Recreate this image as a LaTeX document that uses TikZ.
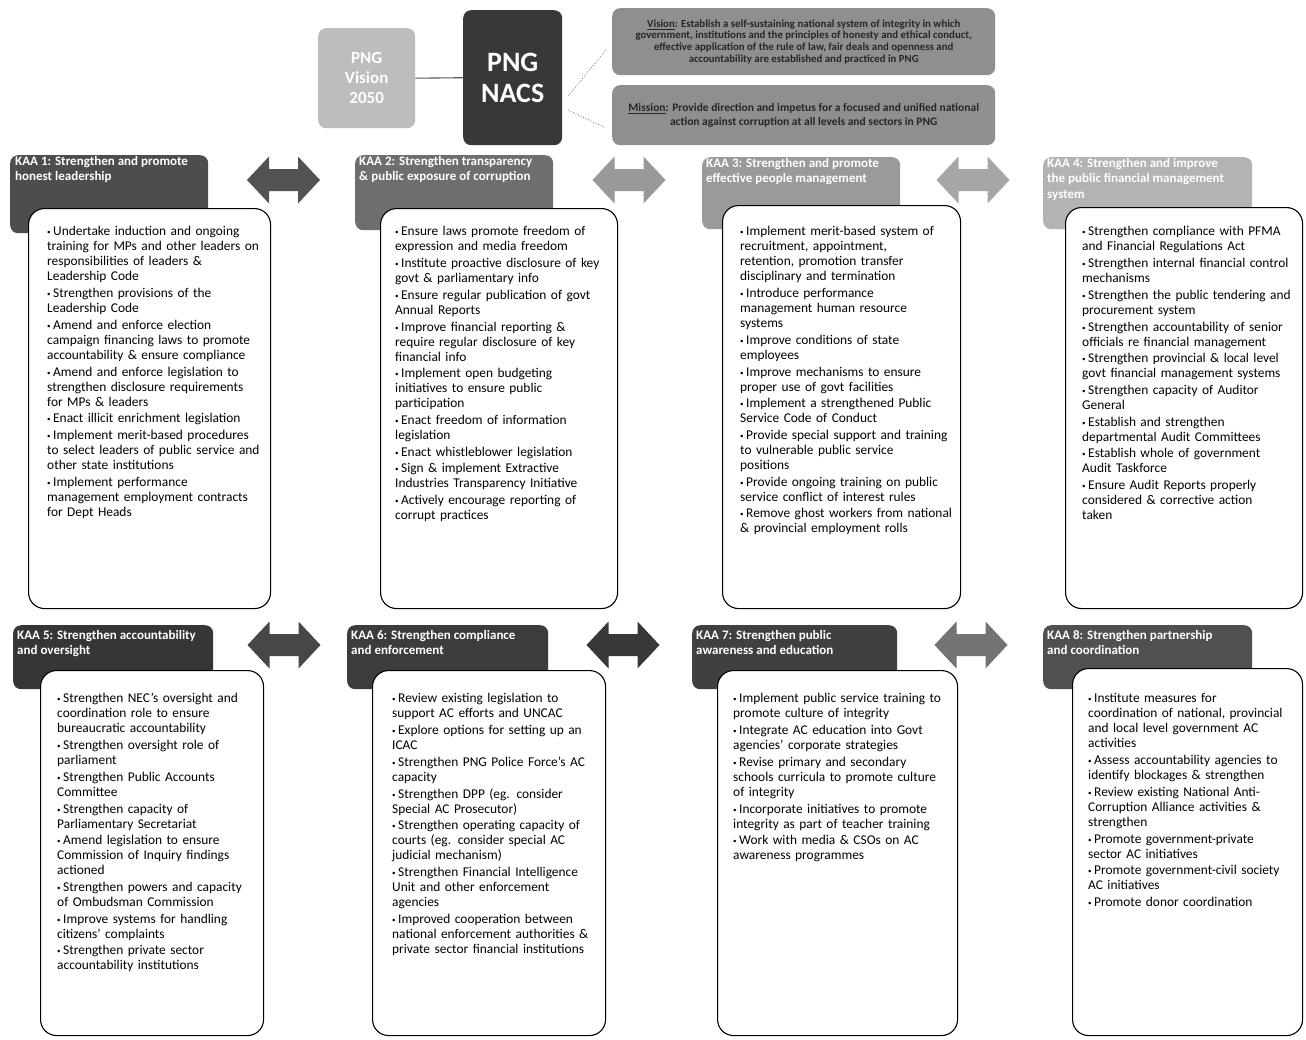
\documentclass[tikz,border=0pt]{standalone}
\usepackage{fontspec}
\setmainfont{Carlito}
\definecolor{hA}{HTML}{4D4D4D}
\definecolor{hB}{HTML}{6E6E6E}
\definecolor{hC}{HTML}{9A9A9A}
\definecolor{hD}{HTML}{B3B3B3}
\definecolor{hE}{HTML}{363636}
\definecolor{hF}{HTML}{3C3C3C}
\definecolor{hG}{HTML}{404040}
\definecolor{hH}{HTML}{505050}
\definecolor{vmgray}{HTML}{8F8F8F}
\definecolor{vtwo}{HTML}{BDBDBD}
\definecolor{nacs}{HTML}{383838}
\newcommand\itm[1]{\par\hangindent=6pt\hangafter=1\noindent\makebox[6pt][l]{\raisebox{1pt}{\scriptsize\textbullet}}#1}
\newcommand\DArrow[3]{\fill[#3,shift={(#1,#2)}] (-36.5,0)--(-14.5,-23.5)--(-14.5,-11)--(14.5,-11)--(14.5,-23.5)--(36.5,0)--(14.5,23.5)--(14.5,11)--(-14.5,11)--(-14.5,23.5)--cycle;}
\begin{document}
\begin{tikzpicture}[x=1pt,y=-1pt,
 hdr/.style={rectangle, rounded corners=8pt, draw=none, anchor=north west, inner sep=0pt},
 hdrtext/.style={anchor=north west, inner sep=0pt, text=white, font=\bfseries\fontsize{13}{15.5}\selectfont, align=left},
 bodybox/.style={rectangle, rounded corners=16pt, draw=black, line width=1.1pt, fill=white, anchor=north west, inner sep=0pt},
 bodytext/.style={anchor=north west, inner sep=0pt, text width=290pt, align=left, font=\fontsize{13.4}{15}\selectfont},
 topbox/.style={rectangle, rounded corners=8pt, draw=none, anchor=north west, inner sep=0pt},
 vmtext/.style={inner sep=0pt, align=center, text=black!85, font=\bfseries\fontsize{10.8}{11.6}\selectfont}]
\useasboundingbox (0,0) rectangle (1306,1039);
\fill[white] (0,0) rectangle (1306,1039);

% ---------- top ----------
\node[topbox, fill=vtwo, minimum width=97pt, minimum height=100pt] (v2050) at (318,28) {};
\node[text=white, font=\bfseries\fontsize{17}{20}\selectfont, align=center] (v2050t) at (v2050.center) {PNG\\Vision\\2050};
\node[topbox, fill=nacs, minimum width=99pt, minimum height=135pt] (nacsb) at (463,10) {};
\node[text=white, font=\bfseries\fontsize{28}{31}\selectfont, align=center] (nacst) at (nacsb.center) {PNG\\NACS};
\draw[black!65, line width=1.1pt] (v2050.east) -- (nacsb.west);

\node[topbox, fill=vmgray, minimum width=383pt, minimum height=67pt] (vis) at (612,8) {};
\node[vmtext] (vist) at (vis.center) {\underline{Vision}: Establish a self-sustaining national system of integrity in which\\government, institutions and the principles of honesty and ethical conduct,\\effective application of the rule of law, fair deals and openness and\\accountability are established and practiced in PNG};
\node[topbox, fill=vmgray, minimum width=383pt, minimum height=60pt] (mis) at (612,85) {};
\node[vmtext, font=\bfseries\fontsize{11.5}{14}\selectfont] (mist) at (mis.center) {\underline{Mission}: Provide direction and impetus for a focused and unified national\\action against corruption at all levels and sectors in PNG};
\coordinate (na) at (568,96);
\coordinate (nb) at (568,110);
\draw[black!60, dotted, line width=0.8pt] (na) -- (606,50);
\draw[black!60, dotted, line width=0.8pt] (nb) -- (606,128);

% ---------- headers row 1 ----------
\node[hdr, fill=hA, minimum width=198pt, minimum height=78pt] (h1) at (10,155) {};
\node[hdr, fill=hB, minimum width=198pt, minimum height=75pt] (h2) at (355,155) {};
\node[hdr, fill=hC, minimum width=198pt, minimum height=72pt] (h3) at (702,157) {};
\node[hdr, fill=hD, minimum width=209pt, minimum height=72pt] (h4) at (1043,157) {};
% ---------- headers row 2 ----------
\node[hdr, fill=hE, minimum width=200pt, minimum height=64pt] (h5) at (13,625) {};
\node[hdr, fill=hF, minimum width=201pt, minimum height=64pt] (h6) at (347,625) {};
\node[hdr, fill=hG, minimum width=205pt, minimum height=64pt] (h7) at (692,625) {};
\node[hdr, fill=hH, minimum width=209pt, minimum height=64pt] (h8) at (1043,625) {};

\node[hdrtext] (h1t) at (15,156) {KAA 1: Strengthen and promote\\honest leadership};
\node[hdrtext] (h2t) at (359,156) {KAA 2: Strengthen transparency\\\& public exposure of corruption};
\node[hdrtext] (h3t) at (706,158) {KAA 3: Strengthen and promote\\effective people management};
\node[hdrtext] (h4t) at (1047,158) {KAA 4: Strengthen and improve\\the public financial management\\system};
\node[hdrtext] (h5t) at (17,630) {KAA 5: Strengthen accountability\\and oversight};
\node[hdrtext] (h6t) at (351,630) {KAA 6: Strengthen compliance\\and enforcement};
\node[hdrtext] (h7t) at (696,630) {KAA 7: Strengthen public\\awareness and education};
\node[hdrtext] (h8t) at (1047,630) {KAA 8: Strengthen partnership\\and coordination};

% ---------- bodies ----------
\node[bodybox, minimum width=242pt, minimum height=400pt] (b1) at (28,208) {};
\node[bodybox, minimum width=237pt, minimum height=400pt] (b2) at (380,208) {};
\node[bodybox, minimum width=238pt, minimum height=403pt] (b3) at (722,205) {};
\node[bodybox, minimum width=237pt, minimum height=401pt] (b4) at (1065,207) {};
\node[bodybox, minimum width=223pt, minimum height=365pt] (b5) at (40,670) {};
\node[bodybox, minimum width=233pt, minimum height=365pt] (b6) at (372,670) {};
\node[bodybox, minimum width=240pt, minimum height=365pt] (b7) at (717,670) {};
\node[bodybox, minimum width=230pt, minimum height=367pt] (b8) at (1072,668) {};

% ---------- arrows ----------
\DArrow{283.5}{180}{black!68}
\DArrow{629}{180}{black!40}
\DArrow{973}{180}{black!35}
\DArrow{284}{645}{black!72}
\DArrow{623}{645}{black!78}
\DArrow{971}{645}{black!55}

% ---------- texts ----------
\node[bodytext] (t1) at (47,219) {\setlength{\parskip}{1.7pt}%
\itm{Undertake induction and ongoing\\training for MPs and other leaders on\\responsibilities of leaders \&\\Leadership Code}
\itm{Strengthen provisions of the\\Leadership Code}
\itm{Amend and enforce election\\campaign financing laws to promote\\accountability \& ensure compliance}
\itm{Amend and enforce legislation to\\strengthen disclosure requirements\\for MPs \& leaders}
\itm{Enact illicit enrichment legislation}
\itm{Implement merit-based procedures\\to select leaders of public service and\\other state institutions}
\itm{Implement performance\\management employment contracts\\for Dept Heads}};

\node[bodytext] (t2) at (395,219) {\setlength{\parskip}{1.7pt}%
\itm{Ensure laws promote freedom of\\expression and media freedom}
\itm{Institute proactive disclosure of key\\govt \& parliamentary info}
\itm{Ensure regular publication of govt\\Annual Reports}
\itm{Improve financial reporting \&\\require regular disclosure of key\\financial info}
\itm{Implement open budgeting\\initiatives to ensure public\\participation}
\itm{Enact freedom of information\\legislation}
\itm{Enact whistleblower legislation}
\itm{Sign \& implement Extractive\\Industries Transparency Initiative}
\itm{Actively encourage reporting of\\corrupt practices}};

\node[bodytext] (t3) at (740,219) {\setlength{\parskip}{1.7pt}%
\itm{Implement merit-based system of\\recruitment, appointment,\\retention, promotion transfer\\disciplinary and termination}
\itm{Introduce performance\\management human resource\\systems}
\itm{Improve conditions of state\\employees}
\itm{Improve mechanisms to ensure\\proper use of govt facilities}
\itm{Implement a strengthened Public\\Service Code of Conduct}
\itm{Provide special support and training\\to vulnerable public service\\positions}
\itm{Provide ongoing training on public\\service conflict of interest rules}
\itm{Remove ghost workers from national\\\& provincial employment rolls}};

\node[bodytext] (t4) at (1082,219) {\setlength{\parskip}{1.7pt}%
\itm{Strengthen compliance with PFMA\\and Financial Regulations Act}
\itm{Strengthen internal financial control\\mechanisms}
\itm{Strengthen the public tendering and\\procurement system}
\itm{Strengthen accountability of senior\\officials re financial management}
\itm{Strengthen provincial \& local level\\govt financial management systems}
\itm{Strengthen capacity of Auditor\\General}
\itm{Establish and strengthen\\departmental Audit Committees}
\itm{Establish whole of government\\Audit Taskforce}
\itm{Ensure Audit Reports properly\\considered \& corrective action\\taken}};

\node[bodytext] (t5) at (57,686) {\setlength{\parskip}{1.7pt}%
\itm{Strengthen NEC's oversight and\\coordination role to ensure\\bureaucratic accountability}
\itm{Strengthen oversight role of\\parliament}
\itm{Strengthen Public Accounts\\Committee}
\itm{Strengthen capacity of\\Parliamentary Secretariat}
\itm{Amend legislation to ensure\\Commission of Inquiry findings\\actioned}
\itm{Strengthen powers and capacity\\of Ombudsman Commission}
\itm{Improve systems for handling\\citizens' complaints}
\itm{Strengthen private sector\\accountability institutions}};

\node[bodytext] (t6) at (392,686) {\setlength{\parskip}{1.7pt}%
\itm{Review existing legislation to\\support AC efforts and UNCAC}
\itm{Explore options for setting up an\\ICAC}
\itm{Strengthen PNG Police Force's AC\\capacity}
\itm{Strengthen DPP (eg. consider\\Special AC Prosecutor)}
\itm{Strengthen operating capacity of\\courts (eg. consider special AC\\judicial mechanism)}
\itm{Strengthen Financial Intelligence\\Unit and other enforcement\\agencies}
\itm{Improved cooperation between\\national enforcement authorities \&\\private sector financial institutions}};

\node[bodytext] (t7) at (733,686) {\setlength{\parskip}{1.7pt}%
\itm{Implement public service training to\\promote culture of integrity}
\itm{Integrate AC education into Govt\\agencies' corporate strategies}
\itm{Revise primary and secondary\\schools curricula to promote culture\\of integrity}
\itm{Incorporate initiatives to promote\\integrity as part of teacher training}
\itm{Work with media \& CSOs on AC\\awareness programmes}};

\node[bodytext] (t8) at (1088,686) {\setlength{\parskip}{1.7pt}%
\itm{Institute measures for\\coordination of national, provincial\\and local level government AC\\activities}
\itm{Assess accountability agencies to\\identify blockages \& strengthen}
\itm{Review existing National Anti-\\Corruption Alliance activities \&\\strengthen}
\itm{Promote government-private\\sector AC initiatives}
\itm{Promote government-civil society\\AC initiatives}
\itm{Promote donor coordination}};
\end{tikzpicture}
\end{document}
